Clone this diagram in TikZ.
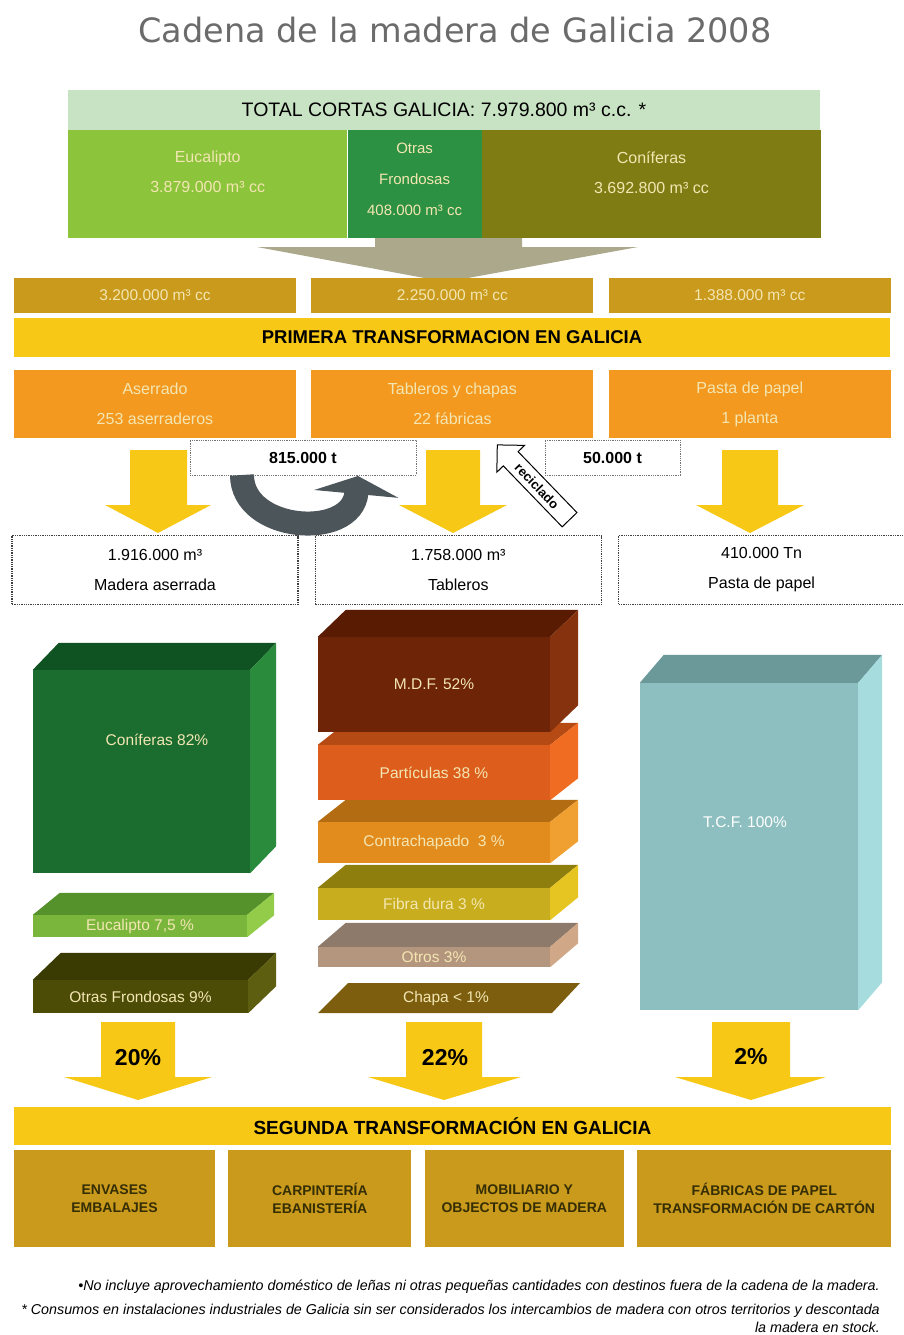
\documentclass[tikz,border=0pt]{standalone}
\usepackage{fontspec}
\setmainfont{Liberation Sans}
\newfontfamily\titlefont{DejaVu Sans}
\usetikzlibrary{positioning}
\usetikzlibrary{shapes.arrows}
\usetikzlibrary{arrows.meta}

\definecolor{mint}{HTML}{C8E3C3}
\definecolor{eucagreen}{HTML}{8CC43C}
\definecolor{frongreen}{HTML}{2C9142}
\definecolor{conolive}{HTML}{7F7C14}
\definecolor{gold}{HTML}{C99A1C}
\definecolor{sun}{HTML}{F8C816}
\definecolor{orangebox}{HTML}{F4991F}
\definecolor{cream}{HTML}{F3E6B2}
\definecolor{chevron}{HTML}{ABA88C}
\definecolor{loopgray}{HTML}{4C555A}
\definecolor{darkolive}{HTML}{352E05}
% caras de los bloques
\definecolor{coniffront}{HTML}{1B6C2F}
\definecolor{conictop}{HTML}{0F5322}
\definecolor{conifside}{HTML}{2B8B3D}
\definecolor{eucafront}{HTML}{7AB63C}
\definecolor{eucatop}{HTML}{56922C}
\definecolor{eucaside}{HTML}{92CC48}
\definecolor{otrasfront}{HTML}{4C4C06}
\definecolor{otrastop}{HTML}{3A3A03}
\definecolor{otrasside}{HTML}{5E5E10}
\definecolor{chapatop}{HTML}{7C5E0E}
\definecolor{otrosfront}{HTML}{B4957D}
\definecolor{otrostop}{HTML}{8E7A6A}
\definecolor{otrosside}{HTML}{D0A888}
\definecolor{fibrafront}{HTML}{C8AE1E}
\definecolor{fibratop}{HTML}{8E7E0E}
\definecolor{fibraside}{HTML}{E6C422}
\definecolor{contrafront}{HTML}{E38C1E}
\definecolor{contratop}{HTML}{B46C12}
\definecolor{contraside}{HTML}{F0A030}
\definecolor{partfront}{HTML}{DD5E1C}
\definecolor{parttop}{HTML}{B54A14}
\definecolor{partside}{HTML}{F06C22}
\definecolor{mdffront}{HTML}{6E2406}
\definecolor{mdftop}{HTML}{5A1B03}
\definecolor{mdfside}{HTML}{86320E}
\definecolor{tcffront}{HTML}{8EBFC0}
\definecolor{tcftop}{HTML}{6B9898}
\definecolor{tcfside}{HTML}{A6DCDE}

\begin{document}
\begin{tikzpicture}[
    x=1pt, y=-1pt,
    every node/.style = {font=\fontsize{14}{17}\selectfont},
    column/.style = {fill=#1, inner sep=0pt, minimum height=108},
    leaf text/.style = {align=center, text=cream, font=\fontsize{16}{30}\selectfont},
    volume/.style = {fill=gold, minimum width=282, minimum height=35, inner sep=0pt, text=cream, font=\fontsize{15.5}{18}\selectfont},
    banner/.style = {fill=sun, minimum width=876, minimum height=39, inner sep=0pt, font=\bfseries\fontsize{18.5}{20}\selectfont},
    plant/.style = {fill=orangebox, minimum width=282, minimum height=68, inner sep=0pt, align=center, text=cream, font=\fontsize{16}{30}\selectfont},
    product/.style = {draw=black!75, densely dotted, line width=1.3pt, minimum width=286, minimum height=69, inner sep=0pt, align=center, font=\fontsize{16}{30}\selectfont},
    flow label/.style = {draw=black!55, densely dotted, line width=0.8pt, minimum height=35, inner sep=0pt, font=\bfseries\fontsize{16}{18}\selectfont},
    yellow arrow/.style = {fill=sun},
    loop arrow/.style = {draw=loopgray, line width=24, -{Triangle[width=84pt, length=18pt]}},
    recycle arrow/.style = {single arrow, draw, fill=white, line width=1pt, minimum height=104, single arrow head extend=9pt, inner xsep=3pt, inner ysep=5pt, font=\bfseries\fontsize{13}{15}\selectfont},
    front/.style = {fill=#1, inner sep=0pt, text=cream, font=\fontsize{15.5}{18}\selectfont},
    block text/.style = {text=cream, font=\fontsize{15.5}{18}\selectfont},
    share/.style = {font=\bfseries\fontsize{23}{25}\selectfont},
    sector/.style = {fill=gold, minimum height=97, inner sep=0pt, align=center, text=darkolive, font=\bfseries\fontsize{14}{18}\selectfont},
    note/.style = {anchor=east, inner sep=0pt, font=\itshape\fontsize{14.3}{16}\selectfont}
  ]
  \useasboundingbox (0,0) rectangle (904,1335);

  \node[text=black!58, font=\titlefont\fontsize{33.5}{38}\selectfont] (title) at (455,30) {Cadena de la madera de Galicia 2008};

  % cortas
  \node[fill=mint, minimum width=752, minimum height=40, inner sep=0pt, font=\fontsize{19.5}{21}\selectfont] (total cortas) at (444,110) {TOTAL CORTAS GALICIA: 7.979.800 m³ c.c. *};
  \node[column=eucagreen, minimum width=279, anchor=north west] (eucalipto) at (68,130) {};
  \node[column=frongreen, minimum width=134, right=0pt of eucalipto] (frondosas) {};
  \node[column=conolive, minimum width=339, right=0pt of frondosas] (coniferas) {};
  \node[leaf text] (eucalipto text) at ([yshift=12pt]eucalipto.center) {Eucalipto\\3.879.000 m³ cc};
  \node[leaf text, font=\fontsize{15}{31}\selectfont] (frondosas text) at ([yshift=5pt]frondosas.center) {Otras\\Frondosas\\408.000 m³ cc};
  \node[leaf text] (coniferas text) at ([yshift=12pt]coniferas.center) {Coníferas\\3.692.800 m³ cc};

  \fill[chevron] (375,238) -- (522,238) -- (522,247) -- (638,247) -- (446,282) -- (257,247) -- (375,247) -- cycle;

  % primera transformacion
  \node[volume] (vol sawn) at (155,295.5) {3.200.000 m³ cc};
  \node[volume, right=15pt of vol sawn] (vol boards) {2.250.000 m³ cc};
  \node[volume, right=15pt of vol boards] (vol pulp) {1.388.000 m³ cc};
  \node[banner] (primera) at (452,337.5) {PRIMERA TRANSFORMACION EN GALICIA};
  \node[plant] (aserrado) at (155,404) {Aserrado\\253 aserraderos};
  \node[plant, right=15pt of aserrado] (tableros) {Tableros y chapas\\22 fábricas};
  \node[plant, right=15pt of tableros] (pasta) {Pasta de papel\\1 planta};

  \node[flow label, minimum width=226] (sawn flow) at (303,457.5) {815.000 t};
  \node[flow label, minimum width=135] (recycled flow) at (612.5,457.5) {50.000 t};

  \fill[yellow arrow] (130,450) -- (187,450) -- (187,505) -- (211,505) -- (158,533) -- (105,505) -- (130,505) -- cycle;
  \fill[yellow arrow] (426,450) -- (480,450) -- (480,505) -- (507,505) -- (453,533) -- (399,505) -- (426,505) -- cycle;
  \fill[yellow arrow] (722,450) -- (778,450) -- (778,505) -- (804,505) -- (750,533) -- (696,505) -- (722,505) -- cycle;

  \coordinate (loop start) at (242,475);
  \coordinate (loop end) at (358,476);
  \draw[loop arrow] (loop start) .. controls (242,532) and (352,540) .. (loop end);

  \node[recycle arrow, rotate=-46, shape border rotate=180] (reciclado) at (537,486) {reciclado};

  \node[product] (madera) at (155,570) {1.916.000 m³\\Madera aserrada};
  \node[product, right=16pt of madera] (tablero) {1.758.000 m³\\Tableros};
  \node[product, right=16pt of tablero] (papel) {410.000 Tn\\Pasta de papel};

  % bloques madera aserrada
  \node[front=coniffront, minimum width=217, minimum height=203] (conif block) at (141.5,771.5) {};
  \fill[conictop] (conif block.north west) -- ++(26,-27) -- ([shift={(26,-27)}]conif block.north east) -- (conif block.north east) -- cycle;
  \fill[conifside] (conif block.north east) -- ++(26,-27) -- ([shift={(26,-27)}]conif block.south east) -- (conif block.south east) -- cycle;
  \node[block text] (conif label) at (157,740) {Coníferas 82\%};

  \node[front=eucafront, minimum width=214, minimum height=22] (euca block) at (140,926) {Eucalipto 7,5 \%};
  \fill[eucatop] (euca block.north west) -- ++(27,-22) -- ([shift={(27,-22)}]euca block.north east) -- (euca block.north east) -- cycle;
  \fill[eucaside] (euca block.north east) -- ++(27,-22) -- ([shift={(27,-22)}]euca block.south east) -- (euca block.south east) -- cycle;

  \node[front=otrasfront, minimum width=215, minimum height=33] (otras block) at (140.5,996.5) {Otras Frondosas 9\%};
  \fill[otrastop] (otras block.north west) -- ++(28,-27) -- ([shift={(28,-27)}]otras block.north east) -- (otras block.north east) -- cycle;
  \fill[otrasside] (otras block.north east) -- ++(28,-27) -- ([shift={(28,-27)}]otras block.south east) -- (otras block.south east) -- cycle;

  % bloques tableros
  \fill[chapatop] (318,1013) -- (348,983) -- (580,983) -- (552,1013) -- cycle;
  \node[block text] (chapa) at (446,998) {Chapa < 1\%};

  \node[front=otrosfront, minimum width=232, minimum height=20] (otros block) at (434,957) {Otros 3\%};
  \fill[otrostop] (otros block.north west) -- ++(28,-24) -- ([shift={(28,-24)}]otros block.north east) -- (otros block.north east) -- cycle;
  \fill[otrosside] (otros block.north east) -- ++(28,-24) -- ([shift={(28,-24)}]otros block.south east) -- (otros block.south east) -- cycle;

  \node[front=fibrafront, minimum width=232, minimum height=32] (fibra block) at (434,904) {Fibra dura 3 \%};
  \fill[fibratop] (fibra block.north west) -- ++(28,-23) -- ([shift={(28,-23)}]fibra block.north east) -- (fibra block.north east) -- cycle;
  \fill[fibraside] (fibra block.north east) -- ++(28,-23) -- ([shift={(28,-23)}]fibra block.south east) -- (fibra block.south east) -- cycle;

  \node[front=contrafront, minimum width=232, minimum height=41] (contra block) at (434,842.5) {Contrachapado\ \ 3 \%};
  \fill[contratop] (contra block.north west) -- ++(28,-22) -- ([shift={(28,-22)}]contra block.north east) -- (contra block.north east) -- cycle;
  \fill[contraside] (contra block.north east) -- ++(28,-22) -- ([shift={(28,-22)}]contra block.south east) -- (contra block.south east) -- cycle;

  \node[front=partfront, minimum width=232, minimum height=55] (part block) at (434,772.5) {Partículas 38 \%};
  \fill[parttop] (part block.north west) -- ++(28,-22) -- ([shift={(28,-22)}]part block.north east) -- (part block.north east) -- cycle;
  \fill[partside] (part block.north east) -- ++(28,-22) -- ([shift={(28,-22)}]part block.south east) -- (part block.south east) -- cycle;

  \node[front=mdffront, minimum width=232, minimum height=95] (mdf block) at (434,684.5) {M.D.F. 52\%};
  \fill[mdftop] (mdf block.north west) -- ++(28,-27) -- ([shift={(28,-27)}]mdf block.north east) -- (mdf block.north east) -- cycle;
  \fill[mdfside] (mdf block.north east) -- ++(28,-27) -- ([shift={(28,-27)}]mdf block.south east) -- (mdf block.south east) -- cycle;

  % bloque pasta
  \node[front=tcffront, minimum width=218, minimum height=327] (tcf block) at (749,846.5) {};
  \fill[tcftop] (tcf block.north west) -- ++(24,-28) -- ([shift={(24,-28)}]tcf block.north east) -- (tcf block.north east) -- cycle;
  \fill[tcfside] (tcf block.north east) -- ++(24,-28) -- ([shift={(24,-28)}]tcf block.south east) -- (tcf block.south east) -- cycle;
  \node[block text, text=white] (tcf label) at (745,822) {T.C.F. 100\%};

  % segunda transformacion
  \fill[yellow arrow] (101,1022) -- (175,1022) -- (175,1077) -- (212,1077) -- (138,1100) -- (64,1077) -- (101,1077) -- cycle;
  \fill[yellow arrow] (406,1022) -- (482,1022) -- (482,1077) -- (521,1077) -- (444,1100) -- (368,1077) -- (406,1077) -- cycle;
  \fill[yellow arrow] (712,1022) -- (790,1022) -- (790,1077) -- (826,1077) -- (751,1100) -- (675,1077) -- (712,1077) -- cycle;
  \node[share] (share sawn) at (138,1058) {20\%};
  \node[share] (share boards) at (445,1058) {22\%};
  \node[share] (share pulp) at (751,1057) {2\%};

  \node[banner, minimum width=877, minimum height=38, font=\bfseries\fontsize{19}{21}\selectfont] (segunda) at (452.5,1126) {SEGUNDA TRANSFORMACIÓN EN GALICIA};
  \node[sector, minimum width=201] (envases) at (114.5,1198.5) {ENVASES\\EMBALAJES};
  \node[sector, minimum width=183, right=13pt of envases] (carpinteria) {CARPINTERÍA\\EBANISTERÍA};
  \node[sector, minimum width=199, right=13pt of carpinteria] (mobiliario) {MOBILIARIO Y\\OBJECTOS DE MADERA};
  \node[sector, minimum width=254, right=13pt of mobiliario] (fabricas) {FÁBRICAS DE PAPEL\\TRANSFORMACIÓN DE CARTÓN};

  \node[note] (note firewood) at (880,1287) {•No incluye aprovechamiento doméstico de leñas ni otras pequeñas cantidades con destinos fuera de la cadena de la madera.};
  \node[note] (note consumption) at (880,1311) {* Consumos en instalaciones industriales de Galicia sin ser considerados los intercambios de madera con otros territorios y descontada};
  \node[note] (note stock) at (880,1327) {la madera en stock.};
\end{tikzpicture}
\end{document}
